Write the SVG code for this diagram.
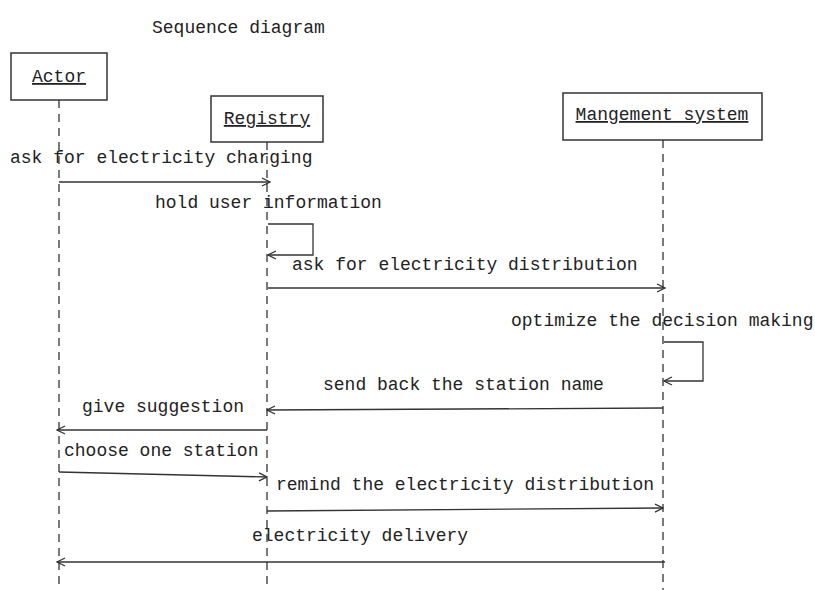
<svg xmlns="http://www.w3.org/2000/svg" width="815" height="590" viewBox="0 0 815 590">
<defs>
<marker id="open" viewBox="0 0 10 10" refX="9" refY="5" markerWidth="10" markerHeight="10" markerUnits="userSpaceOnUse" orient="auto">
<path d="M1,1 L9,5 L1,9" fill="none" stroke="#333" stroke-width="1.3"/>
</marker>
<style>
text{font-family:"Liberation Mono","DejaVu Sans Mono",monospace;font-size:18px;fill:#222}
.box{fill:#fff;stroke:#333;stroke-width:1.5}
.life{stroke:#333;stroke-width:1.3;stroke-dasharray:8 6;fill:none}
.msg{stroke:#333;stroke-width:1.3;fill:none;marker-end:url(#open)}
.ul{text-decoration:underline}
</style>
</defs>
<rect width="815" height="590" fill="#fff"/>
<text x="152" y="33">Sequence diagram</text>
<g id="lifelines">
<line class="life" x1="59" y1="100" x2="59" y2="590"/>
<line class="life" x1="267" y1="142" x2="267" y2="590"/>
<line class="life" x1="663" y1="140" x2="663" y2="590"/>
</g>
<g id="actor">
<rect class="box" x="11" y="53" width="96" height="47"/>
<text class="ul" x="59" y="82" text-anchor="middle">Actor</text>
</g>
<g id="registry">
<rect class="box" x="211" y="96" width="112" height="46"/>
<text class="ul" x="267" y="124" text-anchor="middle">Registry</text>
</g>
<g id="management">
<rect class="box" x="563" y="93" width="199" height="47"/>
<text class="ul" x="662" y="120" text-anchor="middle">Mangement system</text>
</g>
<g id="connectors">
<path class="msg" d="M59,182 L270,182"/>
<path class="msg" d="M268,224 L313,224 L313,255 L268,255"/>
<path class="msg" d="M268,288 L665,288"/>
<path class="msg" d="M664,342 L703,342 L703,381 L664,381"/>
<path class="msg" d="M663,408 L267,410"/>
<path class="msg" d="M267,430 L57,430"/>
<path class="msg" d="M59,472 L267,477"/>
<path class="msg" d="M267,511 L663,508"/>
<path class="msg" d="M665,562 L57,562"/>
</g>
<g id="labels">
<text x="10" y="163">ask for electricity charging</text>
<text x="155" y="208">hold user information</text>
<text x="292" y="270">ask for electricity distribution</text>
<text x="511" y="326">optimize the decision making</text>
<text x="323" y="390">send back the station name</text>
<text x="82" y="412">give suggestion</text>
<text x="64" y="456">choose one station</text>
<text x="276" y="490">remind the electricity distribution</text>
<text x="252" y="541">electricity delivery</text>
</g>
</svg>
